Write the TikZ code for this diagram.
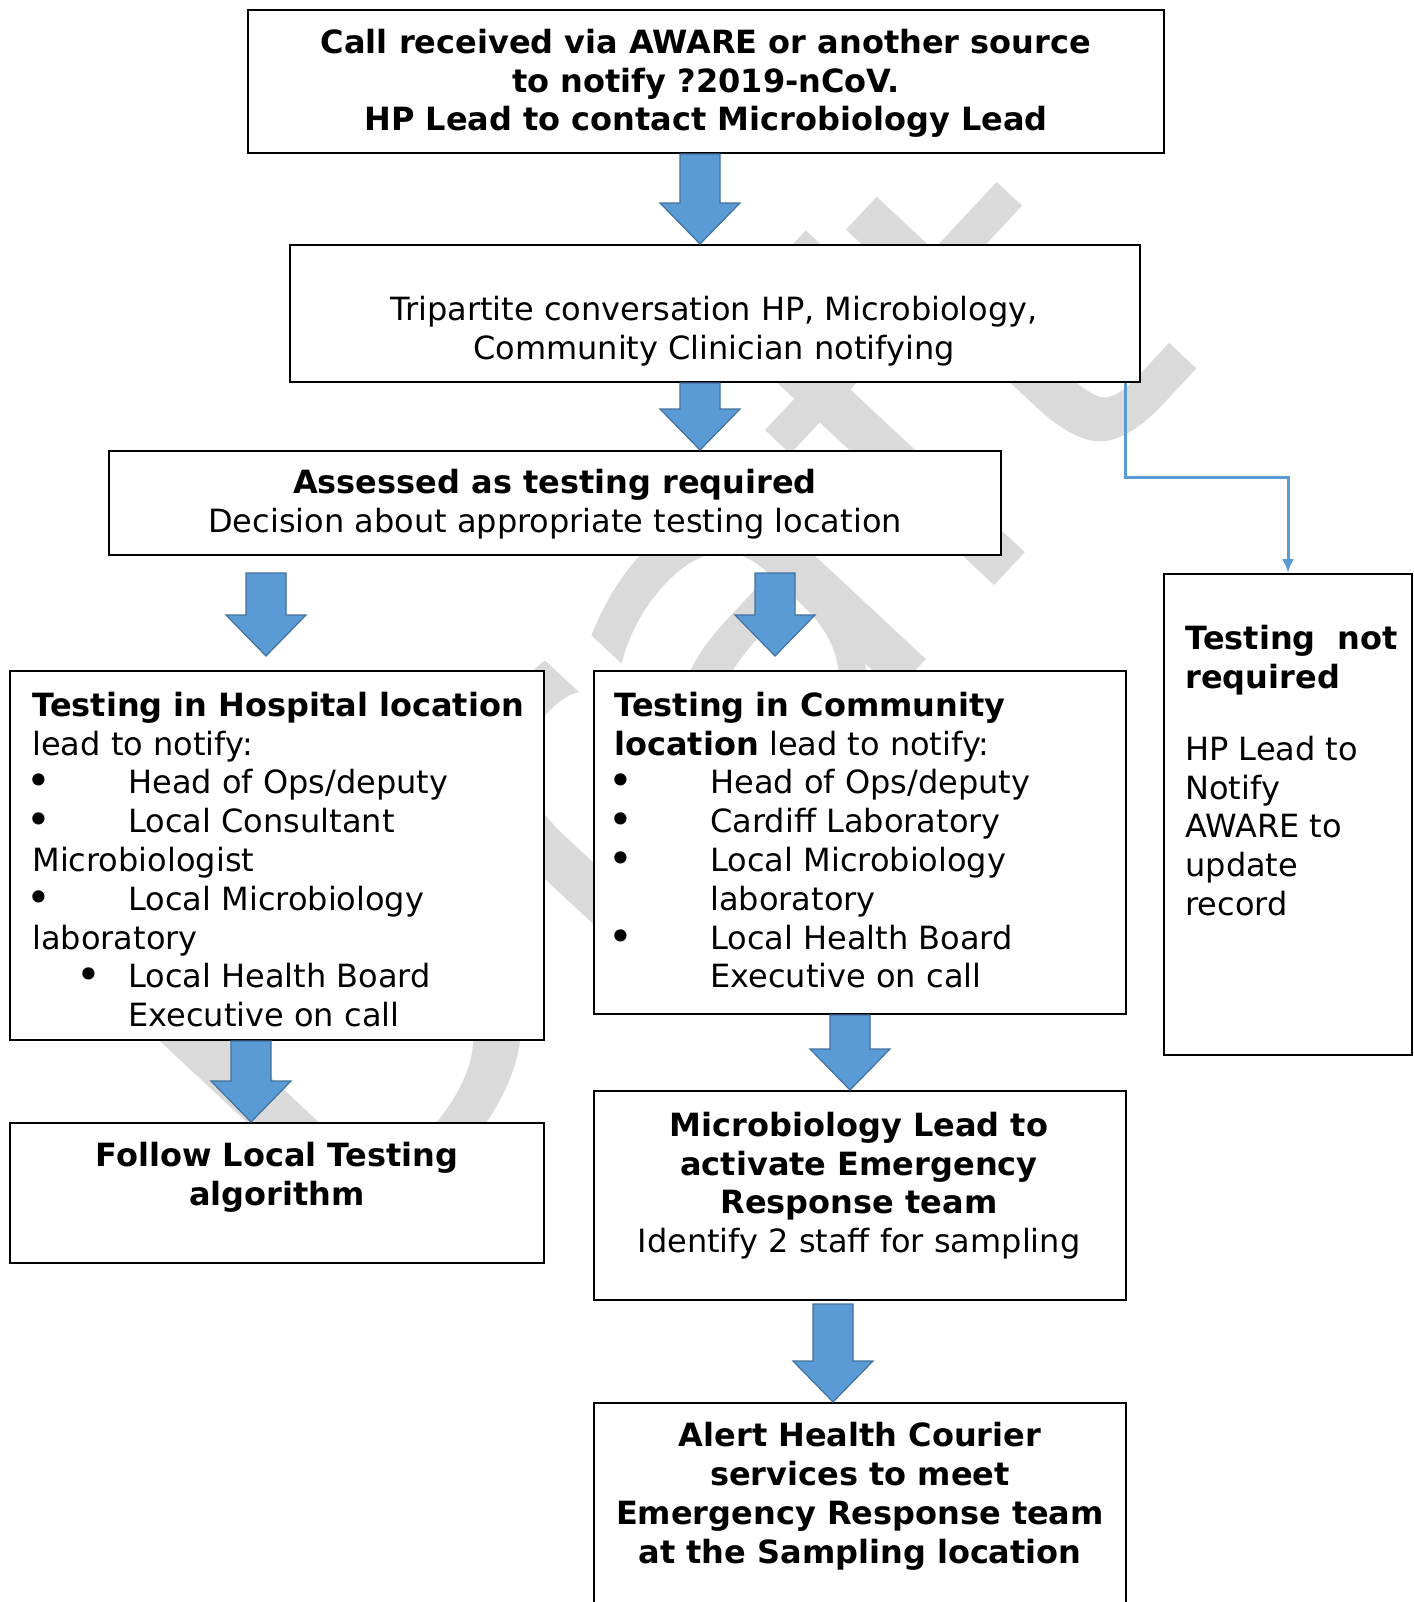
\documentclass[tikz,border=0pt]{standalone}
\usepackage{fontspec}
\setmainfont{DejaVu Sans}
\usetikzlibrary{calc,arrows.meta}
\definecolor{arrowblue}{RGB}{91,155,213}
\definecolor{arrowedge}{RGB}{65,113,156}
\definecolor{wmgray}{RGB}{218,218,218}
% block arrow pointing down: x, from, to
\newcommand{\blockarrow}[3]{%
  \draw[blockarrow] let \p1 = (#1,0 |- #2), \p2 = (#1,0 |- #3) in
    (\x1-10pt,\y1) -- (\x1+10pt,\y1) -- (\x1+10pt,\y2+20.5pt) -- (\x1+20pt,\y2+20.5pt)
    -- (\x1,\y2) -- (\x1-20pt,\y2+20.5pt) -- (\x1-10pt,\y2+20.5pt) -- cycle;}
\newcommand{\bigdot}{\kern-3pt\raisebox{-1pt}{\fontsize{21}{19.4}\selectfont\textbullet}}
\newcommand{\bul}{\makebox[48pt][l]{\bigdot}}

\begin{document}
\begin{tikzpicture}[x=0.5pt,y=-0.5pt]
\tikzset{box/.style = {draw,line width=1pt,fill=white,inner sep=0pt}}
\tikzset{txt/.style = {inner sep=0pt,font=\fontsize{16}{19.4}\selectfont,align=center,anchor=north}}
\tikzset{lefttxt/.style = {txt,align=left,anchor=north west}}
\tikzset{blockarrow/.style = {draw=arrowedge,fill=arrowblue,line width=0.6pt}}
\tikzset{link/.style = {draw=arrowblue,line width=1.5pt,-{Latex[length=7pt,width=6pt]}}}
\clip (0,0) rectangle (1414,1602);
% watermark
\node[text=wmgray,font=\fontsize{250}{250}\selectfont,rotate=47] (draft) at (639,694) {Draft};
% boxes
\node[box,minimum width=458pt,minimum height=71.5pt] (call) at (706,81.5) {};
\node[box,minimum width=425pt,minimum height=68.5pt] (trip) at (715,313.5) {};
\node[box,minimum width=446pt,minimum height=52pt] (assess) at (555,503) {};
\node[box,minimum width=267pt,minimum height=184.5pt] (hosp) at (277,855.5) {};
\node[box,minimum width=266pt,minimum height=171.5pt] (comm) at (860,842.5) {};
\node[box,minimum width=124pt,minimum height=240.5pt] (notreq) at (1288,814.5) {};
\node[box,minimum width=267pt,minimum height=70pt] (follow) at (277,1193) {};
\node[box,minimum width=266pt,minimum height=104.5pt] (micro) at (860,1195.5) {};
\node[box,minimum width=266pt,minimum height=120pt] (alert) at (860,1523) {};
% texts
\node[txt] (callt) at (706,28.5) {\textbf{Call received via AWARE or another source}\\
  \textbf{to notify ?2019-nCoV.}\\ \textbf{HP Lead to contact Microbiology Lead}};
\node[txt] (tript) at (714,296) {Tripartite conversation HP, Microbiology,\\
  Community Clinician notifying};
\node[txt] (assesst) at (555,468.5) {\textbf{Assessed as testing required}\\
  Decision about appropriate testing location};
\node[lefttxt] (hospt) at (32,691.5) {\textbf{Testing in Hospital location}\\
  lead to notify:\\
  \bul Head of Ops/deputy\\
  \bul Local Consultant\\
  Microbiologist\\
  \bul Local Microbiology\\
  laboratory\\
  \hspace*{25pt}\makebox[23pt][l]{\bigdot}Local Health Board\\
  \hspace*{48pt}Executive on call};
\node[lefttxt] (commt) at (614,691.5) {\textbf{Testing in Community}\\
  \textbf{location} lead to notify:\\
  \bul Head of Ops/deputy\\
  \bul Cardiff Laboratory\\
  \bul Local Microbiology\\
  \hspace*{48pt}laboratory\\
  \bul Local Health Board\\
  \hspace*{48pt}Executive on call};
\node[lefttxt] (notreqt) at (1185,625) {\textbf{Testing\ \ not}\\
  \textbf{required}\\[16.5pt]
  HP Lead to\\ Notify\\ AWARE to\\ update\\ record};
\node[txt] (followt) at (277,1142) {\textbf{Follow Local Testing}\\ \textbf{algorithm}};
\node[txt] (microt) at (859,1111.5) {\textbf{Microbiology Lead to}\\
  \textbf{activate Emergency}\\ \textbf{Response team}\\ Identify 2 staff for sampling};
\node[txt] (alertt) at (860,1422) {\textbf{Alert Health Courier}\\
  \textbf{services to meet}\\ \textbf{Emergency Response team}\\
  \textbf{at the Sampling location}};
% block arrows
\coordinate (h1) at (266,573);
\coordinate (h2) at (266,656);
\coordinate (c1) at (775,573);
\coordinate (c2) at (775,656);
\coordinate (m1) at (833,1304);
\blockarrow{700}{call.south}{trip.north}
\blockarrow{700}{trip.south}{assess.north}
\blockarrow{266}{h1}{h2}
\blockarrow{775}{c1}{c2}
\blockarrow{251}{hosp.south}{follow.north}
\blockarrow{850}{comm.south}{micro.north}
\blockarrow{833}{m1}{alert.north}
% not required
\coordinate (k1) at (1125,477);
\draw[link] (k1 |- trip.south) -- (k1) -| (notreq.north);
\end{tikzpicture}
\end{document}
